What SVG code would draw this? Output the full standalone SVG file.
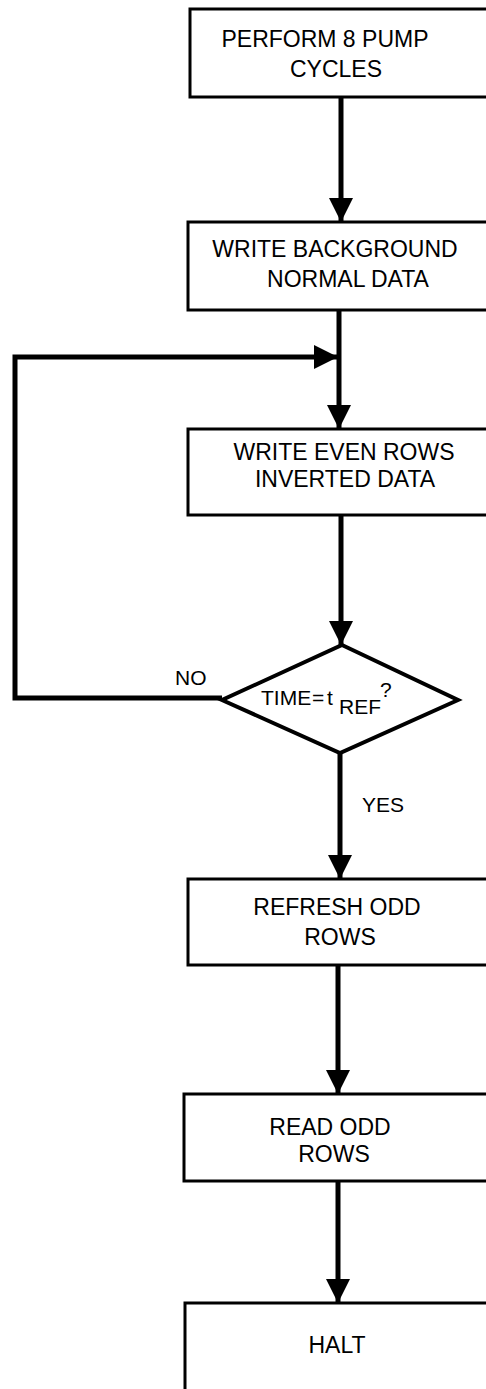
<svg xmlns="http://www.w3.org/2000/svg" width="486" height="1389" viewBox="0 0 486 1389">
<style>
.box{fill:#fff;stroke:#000;stroke-width:3}
.dia{fill:#fff;stroke:#000;stroke-width:4;stroke-linejoin:miter}
.t{font-family:"Liberation Sans",Arial,sans-serif;font-size:23px;fill:#000;text-anchor:middle}
.lbl{font-family:"Liberation Sans",Arial,sans-serif;font-size:21px;fill:#000}
.c{fill:none;stroke:#000;stroke-width:5}
</style>
<defs>
<marker id="ah" markerUnits="userSpaceOnUse" markerWidth="24" markerHeight="26" refX="24" refY="12" orient="auto" viewBox="0 0 24 24">
<path d="M0,0 L24,12 L0,24 Z" fill="#000"/>
</marker>
</defs>
<g id="connectors">
<line class="c" x1="341" y1="97" x2="341" y2="222" marker-end="url(#ah)"/>
<line class="c" x1="339" y1="310" x2="339" y2="429" marker-end="url(#ah)"/>
<polyline class="c" points="222,698 15,698 15,357 338,357" marker-end="url(#ah)"/>
<line class="c" x1="341" y1="515" x2="341" y2="645" marker-end="url(#ah)"/>
<line class="c" x1="340" y1="753" x2="340" y2="879" marker-end="url(#ah)"/>
<line class="c" x1="338" y1="965" x2="338" y2="1094" marker-end="url(#ah)"/>
<line class="c" x1="338" y1="1181" x2="338" y2="1303" marker-end="url(#ah)"/>
<text class="lbl" x="175" y="685">NO</text>
<text class="lbl" x="362" y="812">YES</text>
</g>
<g id="n1">
<rect class="box" x="190" y="9" width="310" height="88"/>
<text class="t" x="325" y="47">PERFORM 8 PUMP</text>
<text class="t" x="336" y="77">CYCLES</text>
</g>
<g id="n2">
<rect class="box" x="188" y="222" width="312" height="88"/>
<text class="t" x="335" y="257">WRITE BACKGROUND</text>
<text class="t" x="348" y="287">NORMAL DATA</text>
</g>
<g id="n3">
<rect class="box" x="188" y="429" width="312" height="86"/>
<text class="t" x="344" y="460">WRITE EVEN ROWS</text>
<text class="t" x="345" y="487">INVERTED DATA</text>
</g>
<g id="n4">
<polygon class="dia" points="342,645 458,700 340,753 222,700"/>
<text class="lbl" font-size="19"><tspan x="261" y="705">TIME</tspan><tspan x="312" y="705">=</tspan><tspan x="327" y="705">t</tspan><tspan x="339" y="714">REF</tspan><tspan x="380" y="697">?</tspan></text>
</g>
<g id="n5">
<rect class="box" x="188" y="879" width="312" height="86"/>
<text class="t" x="337" y="915">REFRESH ODD</text>
<text class="t" x="340" y="945">ROWS</text>
</g>
<g id="n6">
<rect class="box" x="184" y="1094" width="316" height="87"/>
<text class="t" x="330" y="1135">READ ODD</text>
<text class="t" x="334" y="1162">ROWS</text>
</g>
<g id="n7">
<rect class="box" x="185" y="1303" width="315" height="100"/>
<text class="t" x="337" y="1353">HALT</text>
</g>
</svg>
